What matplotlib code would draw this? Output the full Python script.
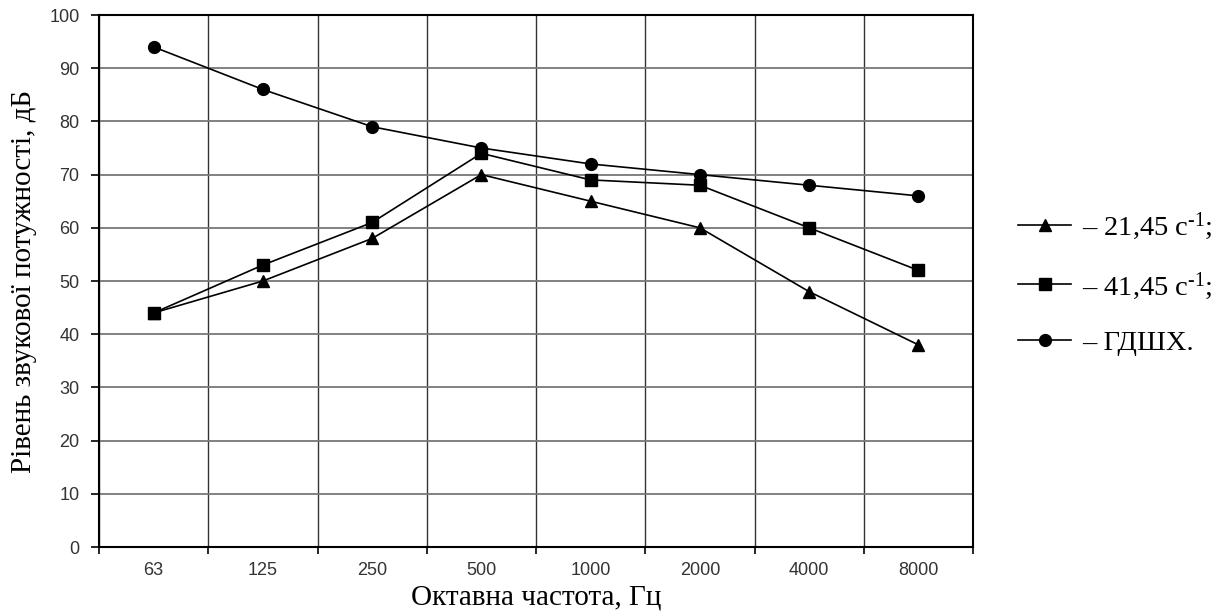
import matplotlib
matplotlib.use("Agg")
import matplotlib.pyplot as plt
import numpy as np

categories = ["63", "125", "250", "500", "1000", "2000", "4000", "8000"]
s21 = [44, 50, 58, 70, 65, 60, 48, 38]
s41 = [44, 53, 61, 74, 69, 68, 60, 52]
gdshkh = [94, 86, 79, 75, 72, 70, 68, 66]
labels = ["– 21,45 с$^{\\text{-1}}$;", "– 41,45 с$^{\\text{-1}}$;", "– ГДШХ."]

plt.rcParams['mathtext.fontset'] = 'custom'
plt.rcParams['mathtext.rm'] = 'Liberation Serif'
plt.rcParams['mathtext.it'] = 'Liberation Serif'

fig = plt.figure(figsize=(12.25, 6.16), dpi=100)
ax = fig.add_axes([99/1225, 69/616, 874/1225, 532/616])

x = np.arange(len(categories))
common = dict(color='black', lw=1.2)
h1, = ax.plot(x, s21, marker='^', ms=8, **common)
h2, = ax.plot(x, s41, marker='s', ms=8.5, **common)
h3, = ax.plot(x, gdshkh, marker='o', ms=8.5, **common)

ax.set_xlim(-0.5, len(categories) - 0.5)
ax.set_ylim(0, 100)

# boundaries as major ticks (grid), centers as minor ticks (labels)
ax.set_xticks(np.arange(-0.5, len(categories), 1.0))
ax.set_xticklabels([])
ax.set_xticks(x, minor=True)
ax.set_xticklabels(categories, minor=True, fontsize=13, family='Liberation Sans', color='#333')
ax.tick_params(axis='x', which='minor', length=0, pad=11)
ax.tick_params(axis='x', which='major', length=5, width=1.2, direction='out')

ax.set_yticks(np.arange(0, 101, 10))
ax.set_yticklabels([str(v) for v in range(0, 101, 10)], fontsize=13, family='Liberation Sans', color='#333')
ax.tick_params(axis='y', length=6, width=1.2, direction='out', pad=8)

ax.grid(True, which='major', axis='x', color='#333', lw=1.0)
ax.grid(True, which='major', axis='y', color='#777', lw=1.3)
ax.set_axisbelow(True)
for sp in ax.spines.values():
    sp.set_linewidth(1.5)
    sp.set_color('black')

ax.set_xlabel("Октавна частота, Гц", fontsize=21, family='Liberation Serif', labelpad=4)
ax.set_ylabel("Рівень звукової потужності, дБ", fontsize=21, family='Liberation Serif', labelpad=9)

fig.legend([h1, h2, h3], labels, loc='center left', bbox_to_anchor=(1007/1225, 0.5406),
           frameon=False, borderaxespad=0, handlelength=1.85, handletextpad=0.4, labelspacing=0.98,
           prop={'family': 'Liberation Serif', 'size': 20.5})

fig.savefig("out.png", dpi=100)
